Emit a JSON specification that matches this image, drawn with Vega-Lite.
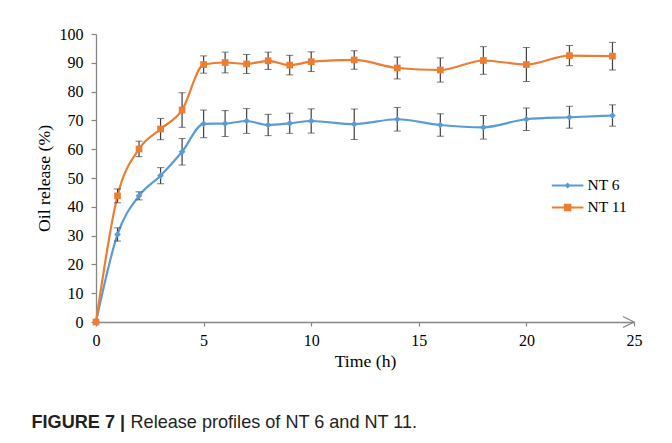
{
  "$schema": "https://vega.github.io/schema/vega-lite/v6.json",
  "background": "white",
  "padding": {"left": 31, "top": 26, "right": 10, "bottom": 5},
  "config": {"view": {"stroke": null}, "font": "Liberation Serif"},
  "datasets": {
    "release": [
      {"t": 0, "series": "NT 6", "value": 0, "err": 0},
      {"t": 1, "series": "NT 6", "value": 30.4, "err": 2.3},
      {"t": 2, "series": "NT 6", "value": 43.8, "err": 1.4},
      {"t": 3, "series": "NT 6", "value": 50.8, "err": 2.8},
      {"t": 4, "series": "NT 6", "value": 59.1, "err": 4.6},
      {"t": 5, "series": "NT 6", "value": 68.8, "err": 4.8},
      {"t": 6, "series": "NT 6", "value": 68.9, "err": 4.5},
      {"t": 7, "series": "NT 6", "value": 69.8, "err": 4.3},
      {"t": 8, "series": "NT 6", "value": 68.4, "err": 3.7},
      {"t": 9, "series": "NT 6", "value": 69.0, "err": 3.5},
      {"t": 10, "series": "NT 6", "value": 69.8, "err": 4.2},
      {"t": 12, "series": "NT 6", "value": 68.7, "err": 5.3},
      {"t": 14, "series": "NT 6", "value": 70.4, "err": 4.1},
      {"t": 16, "series": "NT 6", "value": 68.4, "err": 3.9},
      {"t": 18, "series": "NT 6", "value": 67.6, "err": 4.1},
      {"t": 20, "series": "NT 6", "value": 70.4, "err": 3.9},
      {"t": 22, "series": "NT 6", "value": 71.1, "err": 3.8},
      {"t": 24, "series": "NT 6", "value": 71.7, "err": 3.7},
      {"t": 0, "series": "NT 11", "value": 0, "err": 0},
      {"t": 1, "series": "NT 11", "value": 43.8, "err": 2.4},
      {"t": 2, "series": "NT 11", "value": 60.1, "err": 2.7},
      {"t": 3, "series": "NT 11", "value": 67.0, "err": 3.7},
      {"t": 4, "series": "NT 11", "value": 73.6, "err": 6.0},
      {"t": 5, "series": "NT 11", "value": 89.4, "err": 3.0},
      {"t": 6, "series": "NT 11", "value": 90.1, "err": 3.6},
      {"t": 7, "series": "NT 11", "value": 89.6, "err": 3.3},
      {"t": 8, "series": "NT 11", "value": 90.7, "err": 3.0},
      {"t": 9, "series": "NT 11", "value": 89.2, "err": 3.4},
      {"t": 10, "series": "NT 11", "value": 90.4, "err": 3.4},
      {"t": 12, "series": "NT 11", "value": 91.0, "err": 3.2},
      {"t": 14, "series": "NT 11", "value": 88.2, "err": 3.8},
      {"t": 16, "series": "NT 11", "value": 87.5, "err": 4.2},
      {"t": 18, "series": "NT 11", "value": 90.8, "err": 4.8},
      {"t": 20, "series": "NT 11", "value": 89.4, "err": 5.9},
      {"t": 22, "series": "NT 11", "value": 92.5, "err": 3.5},
      {"t": 24, "series": "NT 11", "value": 92.3, "err": 4.8}
    ]
  },
  "vconcat": [
    {
      "hconcat": [
        {"data": {"values": []}, "mark": "point", "width": 1, "height": 1},
        {
          "width": 538,
          "height": 288,
          "data": {"name": "release"},
          "encoding": {
            "x": {
              "field": "t", "type": "quantitative",
              "scale": {"domain": [0, 25], "nice": false, "zero": false},
              "axis": {
                "values": [0, 5, 10, 15, 20, 25], "title": "Time (h)", "grid": false,
                "domainColor": "#868686", "domainWidth": 1.3, "tickColor": "#868686", "tickSize": 4, "tickWidth": 1.2,
                "labelFont": "Liberation Serif", "labelFontSize": 16, "labelColor": "black", "labelPadding": 6, "labelFlush": false,
                "titleFont": "Liberation Serif", "titleFontSize": 17.7, "titleFontWeight": "normal", "titleColor": "black", "titlePadding": 4
              }
            },
            "y": {
              "field": "value", "type": "quantitative",
              "scale": {"domain": [0, 100], "nice": false},
              "axis": {
                "values": [0, 10, 20, 30, 40, 50, 60, 70, 80, 90, 100], "title": "Oil release (%)", "grid": false,
                "domainColor": "#868686", "domainWidth": 1.3, "tickColor": "#868686", "tickSize": 5, "tickWidth": 1.2,
                "labelFont": "Liberation Serif", "labelFontSize": 16, "labelColor": "black", "labelPadding": 8,
                "titleFont": "Liberation Serif", "titleFontSize": 17.7, "titleFontWeight": "normal", "titleColor": "black", "titlePadding": 6
              }
            }
          },
          "layer": [
            {
              "mark": {"type": "line", "interpolate": "monotone", "strokeWidth": 2.2},
              "encoding": {
                "color": {
                  "field": "series", "type": "nominal",
                  "scale": {"domain": ["NT 6", "NT 11"], "range": ["#5B9BD5", "#ED7D31"]},
                  "legend": {
                    "orient": "none", "legendX": 527.6, "legendY": 142.4, "title": null,
                    "labelFont": "Liberation Serif", "labelFontSize": 15.5, "labelColor": "black",
                    "symbolSize": 250, "symbolStrokeWidth": 2, "labelOffset": 11, "rowPadding": 4,
                    "symbolType": {"expr": "datum.value === 'NT 6' ? 'M-2,0H2M-0.2,0L0,-0.2L0.2,0L0,0.2Z' : 'M-2,0H2M-0.35,-0.35H0.35V0.35H-0.35ZM-0.15,-0.15H0.15V0.15H-0.15Z'"}
                  }
                }
              }
            },
            {
              "transform": [{"filter": "datum.err > 0"}],
              "mark": {"type": "errorbar", "rule": {"color": "#404040", "strokeWidth": 1.2}, "ticks": {"color": "#404040", "size": 7, "strokeWidth": 1.2}},
              "encoding": {
                "y": {"field": "value", "type": "quantitative", "title": "Oil release (%)"},
                "yError": {"field": "err"}
              }
            },
            {
              "transform": [{"filter": "datum.series === 'NT 6'"}],
              "mark": {"type": "point", "shape": "diamond", "filled": true, "color": "#5B9BD5", "opacity": 1, "size": 45}
            },
            {
              "transform": [{"filter": "datum.series === 'NT 11'"}],
              "mark": {"type": "point", "shape": "square", "filled": true, "color": "#ED7D31", "opacity": 1, "size": 45}
            },
            {
              "data": {"values": [{"t": 25, "value": 0}]},
              "mark": {"type": "point", "shape": "M-1,-0.5L0,0L-1,0.5", "size": 484, "filled": false, "stroke": "#868686", "strokeWidth": 1.3, "opacity": 1}
            }
          ]
        }
      ],
      "spacing": 3
    },
    {
      "hconcat": [
        {
          "data": {"values": [{"caption": "FIGURE 7 |"}]},
          "mark": {"type": "text", "align": "left", "baseline": "alphabetic", "font": "Liberation Sans", "fontSize": 18.1, "fontWeight": "bold", "color": "#231f20"},
          "encoding": {"text": {"field": "caption"}},
          "width": 1, "height": 1
        },
        {
          "data": {"values": [{"caption": "Release profiles of NT 6 and NT 11."}]},
          "mark": {"type": "text", "align": "left", "baseline": "alphabetic", "font": "Liberation Sans", "fontSize": 18.1, "color": "#231f20"},
          "encoding": {"text": {"field": "caption"}},
          "width": 1, "height": 1
        }
      ],
      "spacing": 4
    }
  ],
  "spacing": 43
}
